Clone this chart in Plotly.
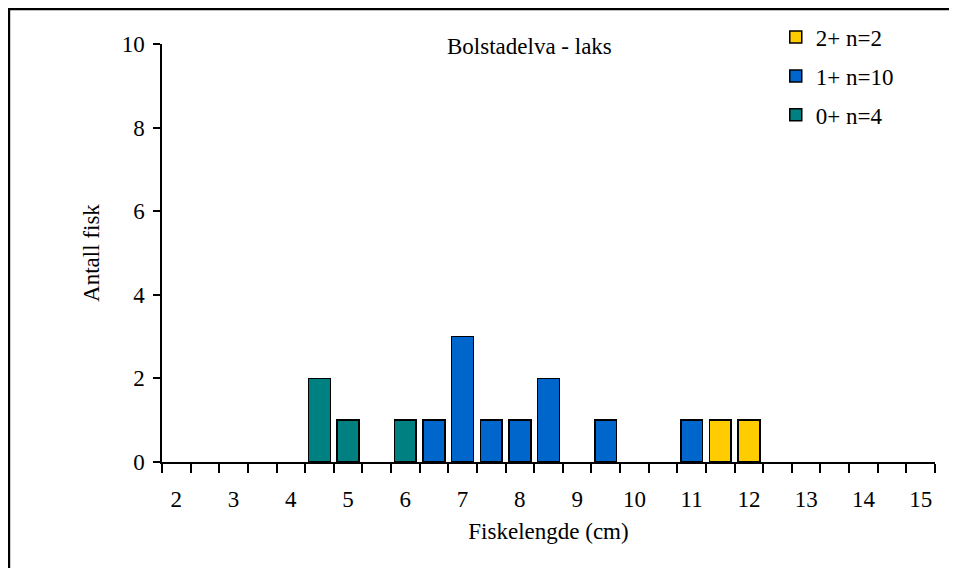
import plotly.graph_objects as go

# length classes (cm) and number of fish per age group
lengths = [4.5, 5, 6, 6.5, 7, 7.5, 8, 8.5, 9.5, 11, 11.5, 12]
age2 = [0, 0, 0, 0, 0, 0, 0, 0, 0, 0, 1, 1]
age1 = [0, 0, 0, 1, 3, 1, 1, 2, 1, 1, 0, 0]
age0 = [2, 1, 1, 0, 0, 0, 0, 0, 0, 0, 0, 0]
names = ["2+ n=2", "1+ n=10", "0+ n=4"]
colors = ["#FFCC00", "#0066CC", "#008080"]
x_labels = list(range(2, 16))

font = "Liberation Serif, Times New Roman, serif"
fs = 23

fig = go.Figure()
for name, vals, col in zip(names, [age2, age1, age0], colors):
    fig.add_bar(x=lengths, y=vals, name=name, legendgroup=name,
                width=0.38, marker=dict(color=col, line=dict(color="black", width=1.5)))

# page has an 8px body margin, so the figure is a bit smaller than the window
fig.update_layout(
    width=949, height=560,
    barmode="stack",
    plot_bgcolor="white", paper_bgcolor="white",
    margin=dict(l=154, r=22, t=36, b=106, autoexpand=False),
    font=dict(family=font, size=fs, color="black"),
    legend=dict(x=0.794, y=1.068, xanchor="left", yanchor="top",
                traceorder="grouped", tracegroupgap=6,
                font=dict(size=fs), bgcolor="rgba(0,0,0,0)", itemwidth=30),
    annotations=[dict(text="Bolstadelva - laks", x=0.475, y=0.993, xref="paper", yref="paper",
                      showarrow=False, font=dict(size=fs), xanchor="center", yanchor="middle")],
    shapes=[dict(type="rect", xref="paper", yref="paper", x0=-0.198, x1=1.2, y0=-0.4, y1=1.0837,
                 line=dict(color="black", width=2.5))],
)

fig.update_xaxes(
    range=[1.75, 15.25], tickvals=x_labels, ticktext=[str(v) for v in x_labels],
    ticks="", showgrid=False, zeroline=False, tickfont=dict(size=fs),
    showline=True, linecolor="black", linewidth=1.5,
    minor=dict(ticks="outside", tick0=1.75, dtick=0.5, ticklen=9, tickcolor="black", tickwidth=1.5, showgrid=False),
    title=dict(text="Fiskelengde (cm)", standoff=12, font=dict(size=fs)), ticklabelstandoff=16,
)
fig.update_yaxes(
    range=[0, 10], dtick=2, ticks="outside", ticklen=7, tickwidth=1.5, tickcolor="black",
    showgrid=False, zeroline=False, showline=True, linecolor="black", linewidth=1.5,
    tickfont=dict(size=fs), ticklabelstandoff=4,
    title=dict(text="Antall fisk", standoff=16, font=dict(size=fs)),
)

fig.write_html("out.html")
